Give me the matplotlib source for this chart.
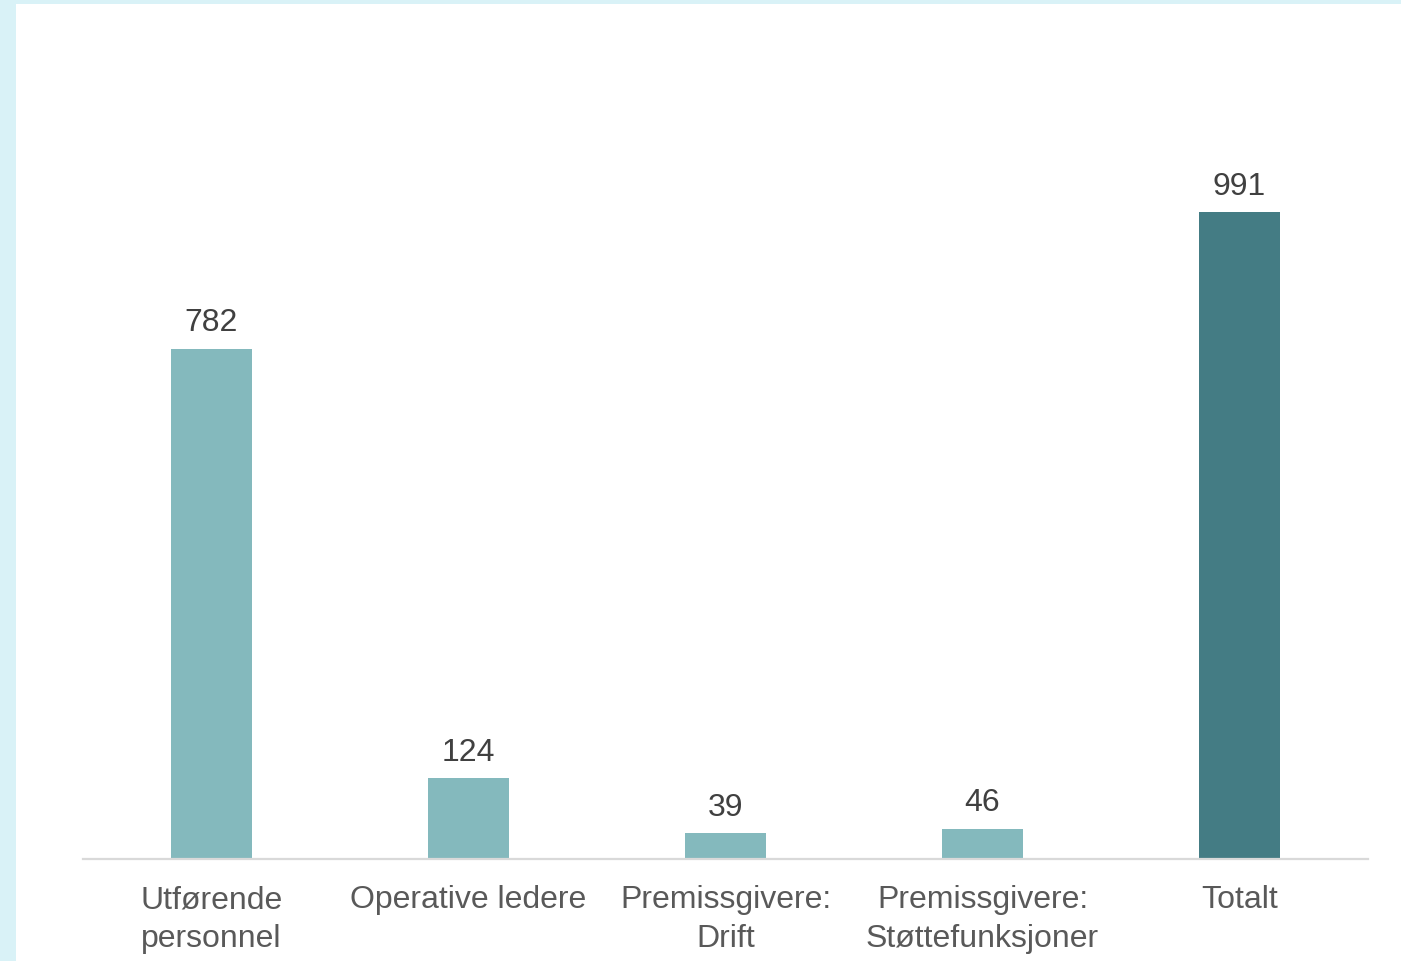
import matplotlib
matplotlib.use("Agg")
import matplotlib.pyplot as plt
from matplotlib.patches import Rectangle

plt.rcParams['font.family'] = ['Liberation Sans', 'DejaVu Sans']

categories = ["Utførende\npersonnel", "Operative ledere", "Premissgivere:\nDrift",
              "Premissgivere:\nStøttefunksjoner", "Totalt"]
values = [782, 124, 39, 46, 991]
bar_colors = ["#84B9BD", "#84B9BD", "#84B9BD", "#84B9BD", "#447C84"]

W, H = 1401, 962
fig = plt.figure(figsize=(W / 100, H / 100), dpi=100)
fig.patch.set_facecolor("white")

# light frame along the left and top edges
fig.add_artist(Rectangle((0, 0), 16 / W, 1, transform=fig.transFigure,
                         facecolor="#D9F2F7", edgecolor="none", zorder=0))
fig.add_artist(Rectangle((0, 1 - 5 / H), 1, 5 / H, transform=fig.transFigure,
                         facecolor="#D9F2F7", edgecolor="none", zorder=0))

x0, x1 = 83, 1368
ybase, ytop = 859.5, 77
ax = fig.add_axes([x0 / W, 1 - ybase / H, (x1 - x0) / W, (ybase - ytop) / H])
ax.set_facecolor("none")

pos = list(range(len(categories)))
bars = ax.bar(pos, values, width=0.315, color=bar_colors, zorder=2)
ax.set_xlim(-0.5, len(categories) - 0.5)
ax.set_ylim(0, 1200)

for b, v in zip(bars, values):
    ax.annotate(f"{v}", (b.get_x() + b.get_width() / 2, v), xytext=(0, 8),
                textcoords="offset points", ha="center", va="bottom",
                fontsize=23, color="#404040")

ax.set_xticks(pos)
ax.set_xticklabels(categories, fontsize=23, color="#595959", linespacing=1.38)
ax.tick_params(axis="x", length=0, pad=18.5)
ax.set_yticks([])
for s in ["top", "right", "left"]:
    ax.spines[s].set_visible(False)
ax.spines["bottom"].set_color("#D9D9D9")
ax.spines["bottom"].set_linewidth(1.6)

fig.savefig("out.png", dpi=100)
